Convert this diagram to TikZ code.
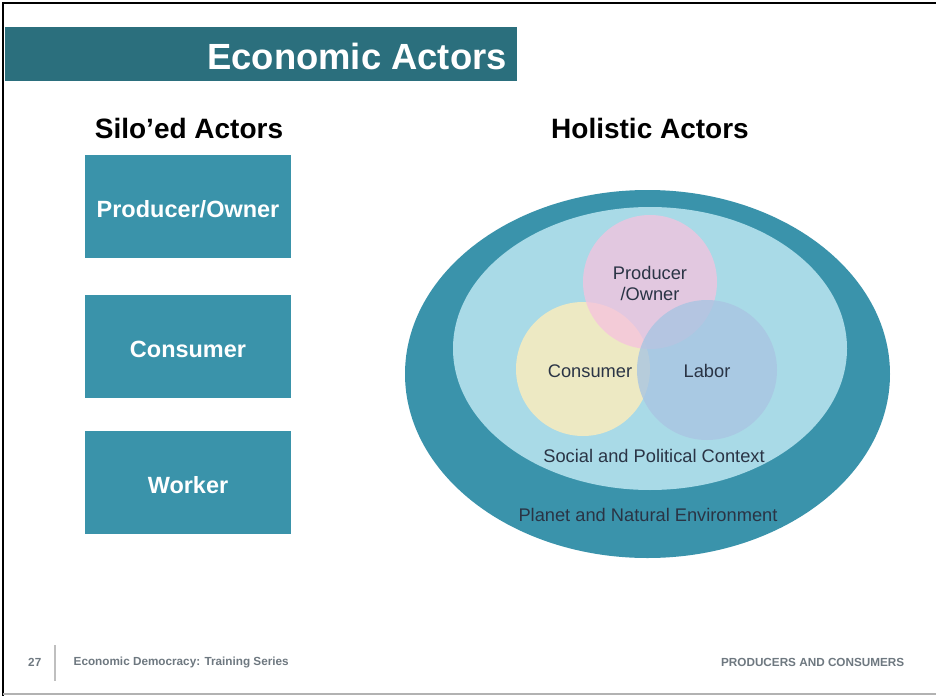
\documentclass[tikz,border=0pt]{standalone}
\usepackage{fontspec}
\setmainfont{Liberation Sans}
\definecolor{barteal}{HTML}{2B6F7D}
\definecolor{boxteal}{HTML}{3A93AA}
\definecolor{outerteal}{HTML}{3A93AB}
\definecolor{innerblue}{HTML}{A9DAE7}
\definecolor{vpink}{HTML}{F6C2DE}
\definecolor{vyellow}{HTML}{EDE9C3}
\definecolor{vblue}{HTML}{A9C5E2}
\definecolor{vtext}{HTML}{2A3445}
\definecolor{foot}{HTML}{6E7880}
\tikzset{
  silobox/.style={fill=boxteal, draw=none, minimum width=206*0.75pt, minimum height=103*0.75pt,
    text=white, font=\bfseries\fontsize{17.6pt}{20pt}\selectfont, inner sep=0pt},
  boxlabel/.style={text=white, font=\bfseries\fontsize{17.6pt}{20pt}\selectfont, inner sep=0pt},
  heading/.style={font=\bfseries\fontsize{21pt}{24pt}\selectfont, text=black},
  venntext/.style={font=\fontsize{13.7pt}{15.75pt}\selectfont, text=vtext, align=center},
  foottext/.style={font=\bfseries\fontsize{8.8pt}{10pt}\selectfont, text=foot}
}
\begin{document}
\begin{tikzpicture}[x=0.75pt,y=-0.75pt]
\useasboundingbox (0,0) rectangle (936,696);
\fill[white] (0,0) rectangle (936,696);
% frame
\draw[black, line width=1.5pt] (3,696) -- (3,3) -- (936,3);
\draw[gray!60, line width=1pt] (3,694) -- (936,694);
% title bar
\fill[barteal] (5,27) rectangle (517,81);
\node[anchor=base east, text=white, font=\bfseries\fontsize{27.3pt}{31pt}\selectfont, inner sep=0pt] (title) at (507,69.5) {Economic Actors};
% headings
\node[heading] (silo) at (189,128) {Silo’ed Actors};
\node[heading] (holi) at (650,128) {Holistic Actors};
% silo boxes
\node[silobox] (prod) at (188,206.5) {};
\node[silobox] (cons) at (188,346.5) {};
\node[silobox] (work) at (188,482.5) {};
\node[boxlabel] at ([yshift=-3*0.75pt]prod.center) {Producer/Owner};
\node[boxlabel] at ([yshift=-3*0.75pt]cons.center) {Consumer};
\node[boxlabel] at ([yshift=-3*0.75pt]work.center) {Worker};
% ellipses
\fill[outerteal] (647.5,374) ellipse [x radius=242.5, y radius=184];
\fill[innerblue] (650,348.5) ellipse [x radius=197, y radius=141.5];
% venn
\fill[vyellow] (583,369) circle [radius=67];
\fill[vpink, fill opacity=0.75] (650,282) circle [radius=67];
\fill[vblue, fill opacity=0.8] (707,370) circle [radius=70];
\node[venntext] (vprod) at (650,283) {Producer\\/Owner};
\node[venntext] (vcons) at (590,371) {Consumer};
\node[venntext] (vlab) at (707,371) {Labor};
\node[venntext] (vsoc) at (654,456) {Social and Political Context};
\node[venntext] (vplan) at (648,515) {Planet and Natural Environment};
% footer
\node[foottext, anchor=east] (num) at (46,662) {27};
\draw[gray!50, line width=0.8pt] (55,645) -- (55,681);
\node[foottext, anchor=west] (series) at (69,662) {Economic Democracy: Training Series};
\node[foottext, anchor=east] (pc) at (909,662) {PRODUCERS AND CONSUMERS};
\end{tikzpicture}
\end{document}
